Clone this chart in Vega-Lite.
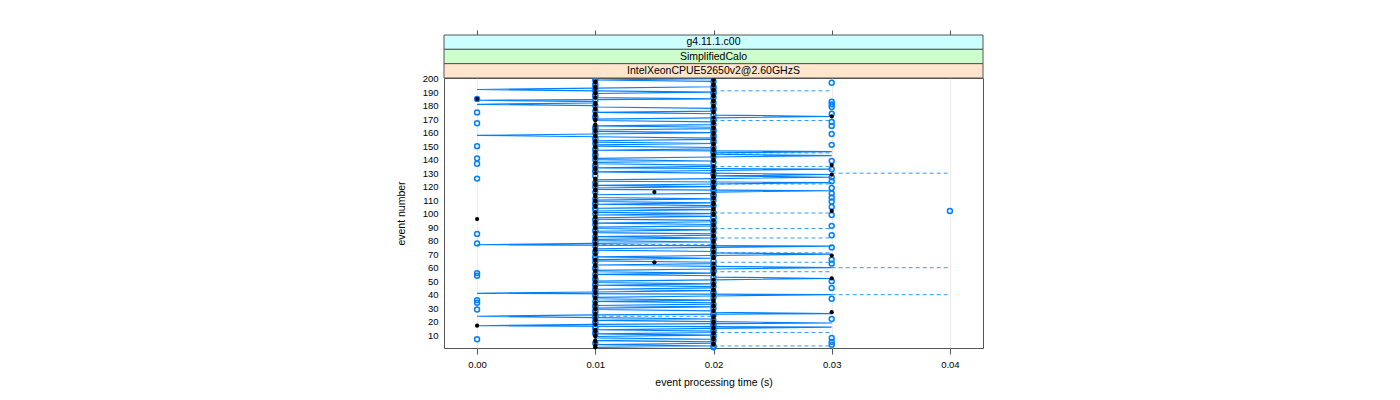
{
  "$schema": "https://vega.github.io/schema/vega-lite/v6.json",
  "autosize": "none",
  "width": 539,
  "height": 270,
  "padding": {"left": 444, "top": 78, "right": 417, "bottom": 52},
  "background": "#ffffff",
  "config": {
    "font": "Liberation Sans",
    "view": {"stroke": "#555555", "strokeWidth": 1}
  },
  "data": {"values": [
{"e":1,"a":0.01,"k":0.01,"p":0.02},
{"e":2,"a":0.02,"k":0.01,"p":0.02},
{"e":3,"a":0.01,"k":0.02,"p":0.03},
{"e":4,"a":0.02,"k":0.02,"p":0.01},
{"e":5,"a":0.02,"k":0.01,"p":0.03},
{"e":6,"a":0.01,"k":0.01,"p":0.02},
{"e":7,"a":0.02,"k":0.02,"p":0.0},
{"e":8,"a":0.01,"k":0.02,"p":0.03},
{"e":9,"a":0.01,"k":0.01,"p":0.02},
{"e":10,"a":0.02,"k":0.01,"p":0.02},
{"e":11,"a":0.01,"k":0.02,"p":0.01},
{"e":12,"a":0.02,"k":0.02,"p":0.01},
{"e":13,"a":0.02,"k":0.01,"p":0.02},
{"e":14,"a":0.01,"k":0.01,"p":0.02},
{"e":15,"a":0.02,"k":0.02,"p":0.01},
{"e":16,"a":0.03,"k":0.02,"p":0.01},
{"e":17,"a":0.0,"k":0.0,"p":0.02},
{"e":18,"a":0.01,"k":0.01,"p":0.02},
{"e":19,"a":0.03,"k":0.02,"p":0.01},
{"e":20,"a":0.02,"k":0.02,"p":0.01},
{"e":21,"a":0.01,"k":0.01,"p":0.02},
{"e":22,"a":0.02,"k":0.01,"p":0.03},
{"e":23,"a":0.01,"k":0.02,"p":0.01},
{"e":24,"a":0.0,"k":0.02,"p":0.01},
{"e":25,"a":0.01,"k":0.01,"p":0.02},
{"e":26,"a":0.03,"k":0.01,"p":0.02},
{"e":27,"a":0.02,"k":0.03,"p":0.01},
{"e":28,"a":0.02,"k":0.02,"p":0.01},
{"e":29,"a":0.01,"k":0.01,"p":0.0},
{"e":30,"a":0.01,"k":0.01,"p":0.02},
{"e":31,"a":0.02,"k":0.02,"p":0.01},
{"e":32,"a":0.01,"k":0.02,"p":0.01},
{"e":33,"a":0.02,"k":0.01,"p":0.02},
{"e":34,"a":0.02,"k":0.01,"p":0.0},
{"e":35,"a":0.01,"k":0.02,"p":0.01},
{"e":36,"a":0.02,"k":0.02,"p":0.0},
{"e":37,"a":0.01,"k":0.01,"p":0.03},
{"e":38,"a":0.01,"k":0.01,"p":0.02},
{"e":39,"a":0.02,"k":0.02,"p":0.01},
{"e":40,"a":0.03,"k":0.02,"p":0.01},
{"e":41,"a":0.0,"k":0.01,"p":0.02},
{"e":42,"a":0.01,"k":0.01,"p":0.02},
{"e":43,"a":0.02,"k":0.02,"p":0.01},
{"e":44,"a":0.01,"k":0.02,"p":0.01},
{"e":45,"a":0.02,"k":0.01,"p":0.03},
{"e":46,"a":0.02,"k":0.01,"p":0.02},
{"e":47,"a":0.01,"k":0.02,"p":0.01},
{"e":48,"a":0.02,"k":0.02,"p":0.01},
{"e":49,"a":0.01,"k":0.01,"p":0.02},
{"e":50,"a":0.01,"k":0.01,"p":0.03},
{"e":51,"a":0.02,"k":0.02,"p":0.01},
{"e":52,"a":0.03,"k":0.03,"p":0.01},
{"e":53,"a":0.02,"k":0.01,"p":0.02},
{"e":54,"a":0.02,"k":0.01,"p":0.0},
{"e":55,"a":0.01,"k":0.02,"p":0.01},
{"e":56,"a":0.02,"k":0.02,"p":0.0},
{"e":57,"a":0.01,"k":0.01,"p":0.02},
{"e":58,"a":0.01,"k":0.01,"p":0.02},
{"e":59,"a":0.02,"k":0.02,"p":0.01},
{"e":60,"a":0.03,"k":0.02,"p":0.01},
{"e":61,"a":0.02,"k":0.01,"p":0.02},
{"e":62,"a":0.01,"k":0.01,"p":0.02},
{"e":63,"a":0.02,"k":0.02,"p":0.03},
{"e":64,"a":0.02,"k":0.015,"p":0.01},
{"e":65,"a":0.01,"k":0.01,"p":0.02},
{"e":66,"a":0.01,"k":0.01,"p":0.03},
{"e":67,"a":0.02,"k":0.02,"p":0.01},
{"e":68,"a":0.01,"k":0.02,"p":0.01},
{"e":69,"a":0.02,"k":0.03,"p":0.02},
{"e":70,"a":0.03,"k":0.01,"p":0.02},
{"e":71,"a":0.02,"k":0.02,"p":0.01},
{"e":72,"a":0.02,"k":0.02,"p":0.01},
{"e":73,"a":0.01,"k":0.01,"p":0.02},
{"e":74,"a":0.01,"k":0.01,"p":0.02},
{"e":75,"a":0.02,"k":0.02,"p":0.03},
{"e":76,"a":0.03,"k":0.02,"p":0.01},
{"e":77,"a":0.0,"k":0.01,"p":0.02},
{"e":78,"a":0.01,"k":0.01,"p":0.0},
{"e":79,"a":0.02,"k":0.02,"p":0.01},
{"e":80,"a":0.01,"k":0.02,"p":0.01},
{"e":81,"a":0.01,"k":0.01,"p":0.02},
{"e":82,"a":0.02,"k":0.01,"p":0.02},
{"e":83,"a":0.01,"k":0.02,"p":0.01},
{"e":84,"a":0.02,"k":0.02,"p":0.03},
{"e":85,"a":0.02,"k":0.01,"p":0.0},
{"e":86,"a":0.01,"k":0.01,"p":0.02},
{"e":87,"a":0.01,"k":0.02,"p":0.01},
{"e":88,"a":0.02,"k":0.02,"p":0.01},
{"e":89,"a":0.01,"k":0.01,"p":0.02},
{"e":90,"a":0.01,"k":0.01,"p":0.02},
{"e":91,"a":0.02,"k":0.02,"p":0.03},
{"e":92,"a":0.02,"k":0.02,"p":0.01},
{"e":93,"a":0.01,"k":0.01,"p":0.02},
{"e":94,"a":0.02,"k":0.01,"p":0.02},
{"e":95,"a":0.02,"k":0.02,"p":0.01},
{"e":96,"a":0.01,"k":0.0,"p":0.01},
{"e":97,"a":0.01,"k":0.01,"p":0.02},
{"e":98,"a":0.02,"k":0.01,"p":0.02},
{"e":99,"a":0.01,"k":0.02,"p":0.03},
{"e":100,"a":0.02,"k":0.02,"p":0.01},
{"e":101,"a":0.01,"k":0.01,"p":0.02},
{"e":102,"a":0.01,"k":0.03,"p":0.04},
{"e":103,"a":0.02,"k":0.02,"p":0.01},
{"e":104,"a":0.01,"k":0.02,"p":0.01},
{"e":105,"a":0.02,"k":0.01,"p":0.03},
{"e":106,"a":0.02,"k":0.01,"p":0.02},
{"e":107,"a":0.01,"k":0.02,"p":0.01},
{"e":108,"a":0.02,"k":0.02,"p":0.01},
{"e":109,"a":0.01,"k":0.01,"p":0.03},
{"e":110,"a":0.01,"k":0.01,"p":0.02},
{"e":111,"a":0.02,"k":0.02,"p":0.01},
{"e":112,"a":0.01,"k":0.02,"p":0.03},
{"e":113,"a":0.01,"k":0.01,"p":0.02},
{"e":114,"a":0.01,"k":0.01,"p":0.02},
{"e":115,"a":0.02,"k":0.02,"p":0.03},
{"e":116,"a":0.02,"k":0.015,"p":0.01},
{"e":117,"a":0.03,"k":0.01,"p":0.02},
{"e":118,"a":0.01,"k":0.01,"p":0.02},
{"e":119,"a":0.01,"k":0.02,"p":0.03},
{"e":120,"a":0.02,"k":0.02,"p":0.01},
{"e":121,"a":0.01,"k":0.01,"p":0.02},
{"e":122,"a":0.02,"k":0.01,"p":0.02},
{"e":123,"a":0.03,"k":0.02,"p":0.01},
{"e":124,"a":0.01,"k":0.02,"p":0.03},
{"e":125,"a":0.01,"k":0.01,"p":0.02},
{"e":126,"a":0.02,"k":0.01,"p":0.0},
{"e":127,"a":0.03,"k":0.02,"p":0.03},
{"e":128,"a":0.02,"k":0.02,"p":0.01},
{"e":129,"a":0.03,"k":0.03,"p":0.02},
{"e":130,"a":0.02,"k":0.01,"p":0.02},
{"e":131,"a":0.01,"k":0.02,"p":0.01},
{"e":132,"a":0.02,"k":0.02,"p":0.01},
{"e":133,"a":0.03,"k":0.01,"p":0.03},
{"e":134,"a":0.01,"k":0.01,"p":0.02},
{"e":135,"a":0.02,"k":0.02,"p":0.01},
{"e":136,"a":0.02,"k":0.03,"p":0.01},
{"e":137,"a":0.01,"k":0.01,"p":0.0},
{"e":138,"a":0.01,"k":0.01,"p":0.02},
{"e":139,"a":0.02,"k":0.02,"p":0.03},
{"e":140,"a":0.01,"k":0.02,"p":0.01},
{"e":141,"a":0.01,"k":0.01,"p":0.0},
{"e":142,"a":0.02,"k":0.01,"p":0.02},
{"e":143,"a":0.03,"k":0.02,"p":0.01},
{"e":144,"a":0.02,"k":0.02,"p":0.01},
{"e":145,"a":0.02,"k":0.01,"p":0.02},
{"e":146,"a":0.03,"k":0.01,"p":0.02},
{"e":147,"a":0.01,"k":0.02,"p":0.01},
{"e":148,"a":0.02,"k":0.02,"p":0.01},
{"e":149,"a":0.02,"k":0.01,"p":0.02},
{"e":150,"a":0.01,"k":0.01,"p":0.0},
{"e":151,"a":0.01,"k":0.02,"p":0.03},
{"e":152,"a":0.02,"k":0.02,"p":0.01},
{"e":153,"a":0.01,"k":0.01,"p":0.02},
{"e":154,"a":0.01,"k":0.01,"p":0.02},
{"e":155,"a":0.02,"k":0.02,"p":0.01},
{"e":156,"a":0.02,"k":0.02,"p":0.01},
{"e":157,"a":0.01,"k":0.01,"p":0.02},
{"e":158,"a":0.0,"k":0.01,"p":0.02},
{"e":159,"a":0.01,"k":0.02,"p":0.03},
{"e":160,"a":0.02,"k":0.02,"p":0.01},
{"e":161,"a":0.01,"k":0.01,"p":0.02},
{"e":162,"a":0.01,"k":0.01,"p":0.02},
{"e":163,"a":0.02,"k":0.02,"p":0.01},
{"e":164,"a":0.02,"k":0.02,"p":0.01},
{"e":165,"a":0.01,"k":0.01,"p":0.03},
{"e":166,"a":0.02,"k":0.01,"p":0.02},
{"e":167,"a":0.02,"k":0.02,"p":0.0},
{"e":168,"a":0.02,"k":0.02,"p":0.03},
{"e":169,"a":0.01,"k":0.01,"p":0.02},
{"e":170,"a":0.01,"k":0.01,"p":0.02},
{"e":171,"a":0.02,"k":0.02,"p":0.01},
{"e":172,"a":0.03,"k":0.03,"p":0.01},
{"e":173,"a":0.02,"k":0.01,"p":0.02},
{"e":174,"a":0.02,"k":0.01,"p":0.03},
{"e":175,"a":0.01,"k":0.02,"p":0.0},
{"e":176,"a":0.02,"k":0.02,"p":0.01},
{"e":177,"a":0.02,"k":0.01,"p":0.02},
{"e":178,"a":0.02,"k":0.01,"p":0.02},
{"e":179,"a":0.01,"k":0.02,"p":0.03},
{"e":180,"a":0.01,"k":0.02,"p":0.01},
{"e":181,"a":0.0,"k":0.01,"p":0.03},
{"e":182,"a":0.01,"k":0.01,"p":0.02},
{"e":183,"a":0.01,"k":0.02,"p":0.03},
{"e":184,"a":0.0,"k":0.02,"p":0.01},
{"e":185,"a":0.02,"k":0.0,"p":0.0},
{"e":186,"a":0.01,"k":0.01,"p":0.02},
{"e":187,"a":0.01,"k":0.02,"p":0.01},
{"e":188,"a":0.01,"k":0.02,"p":0.01},
{"e":189,"a":0.01,"k":0.01,"p":0.02},
{"e":190,"a":0.02,"k":0.01,"p":0.02},
{"e":191,"a":0.01,"k":0.02,"p":0.01},
{"e":192,"a":0.0,"k":0.02,"p":0.01},
{"e":193,"a":0.01,"k":0.01,"p":0.02},
{"e":194,"a":0.02,"k":0.01,"p":0.02},
{"e":195,"a":0.02,"k":0.02,"p":0.01},
{"e":196,"a":0.02,"k":0.02,"p":0.01},
{"e":197,"a":0.02,"k":0.01,"p":0.03},
{"e":198,"a":0.02,"k":0.01,"p":0.02},
{"e":199,"a":0.01,"k":0.02,"p":0.01},
{"e":200,"a":0.02,"k":0.02,"p":0.01}
  ]},
  "layer": [
    {
      "mark": {"type": "line", "color": "#0080ff", "strokeWidth": 1.2},
      "encoding": {
        "x": {"field": "a", "type": "quantitative", "scale": {"domain": [-0.0028, 0.0428], "nice": false, "zero": false},
              "axis": {"orient": "bottom", "values": [0, 0.01, 0.02, 0.03, 0.04], "format": ".2f", "tickSize": 6, "tickColor": "#555555", "labelColor": "#000000", "labelFont": "Liberation Sans", "labelFontSize": 9.5, "labelPadding": 5, "title": "event processing time (s)", "titleFont": "Liberation Sans", "titleColor": "#000000", "titleFontWeight": "normal", "titleFontSize": 10.5, "titlePadding": 9, "grid": true, "gridColor": "#ececec", "domain": false}},
        "y": {"field": "e", "type": "quantitative", "scale": {"domain": [0.5, 200.5], "nice": false, "zero": false},
              "axis": {"values": [10, 20, 30, 40, 50, 60, 70, 80, 90, 100, 110, 120, 130, 140, 150, 160, 170, 180, 190, 200], "tickSize": 0, "labelPadding": 6, "labelColor": "#000000", "labelFont": "Liberation Sans", "labelFontSize": 9.5, "title": "event number", "titleFont": "Liberation Sans", "titleColor": "#000000", "titleFontWeight": "normal", "titleFontSize": 10.5, "titlePadding": 16, "grid": false, "domain": false}},
        "order": {"field": "e"}
      }
    },
    {
      "data": {"values": [
        {"e": 2, "x1": 0.02, "x2": 0.03},
        {"e": 12, "x1": 0.02, "x2": 0.03},
        {"e": 24, "x1": 0.01, "x2": 0.02},
        {"e": 40, "x1": 0.03, "x2": 0.04},
        {"e": 57, "x1": 0.02, "x2": 0.03},
        {"e": 60, "x1": 0.03, "x2": 0.04},
        {"e": 64, "x1": 0.02, "x2": 0.03},
        {"e": 71, "x1": 0.02, "x2": 0.03},
        {"e": 77, "x1": 0.01, "x2": 0.02},
        {"e": 82, "x1": 0.02, "x2": 0.03},
        {"e": 89, "x1": 0.02, "x2": 0.03},
        {"e": 100.5, "x1": 0.02, "x2": 0.03},
        {"e": 122, "x1": 0.02, "x2": 0.03},
        {"e": 130, "x1": 0.03, "x2": 0.04},
        {"e": 135, "x1": 0.02, "x2": 0.03},
        {"e": 145, "x1": 0.02, "x2": 0.03},
        {"e": 169, "x1": 0.02, "x2": 0.03},
        {"e": 191, "x1": 0.02, "x2": 0.03}
      ]},
      "mark": {"type": "rule", "color": "#0080ff", "strokeWidth": 1, "strokeDash": [4, 3], "opacity": 0.8},
      "encoding": {
        "x": {"field": "x1", "type": "quantitative", "axis": null},
        "x2": {"field": "x2"},
        "y": {"field": "e", "type": "quantitative", "scale": {"domain": [0.5, 200.5], "nice": false, "zero": false}, "axis": null}
      }
    },
    {
      "mark": {"type": "point", "shape": "circle", "filled": false, "color": "#0080ff", "size": 24, "strokeWidth": 1.5, "opacity": 1},
      "encoding": {
        "x": {"field": "p", "type": "quantitative", "axis": null},
        "y": {"field": "e", "type": "quantitative", "scale": {"domain": [0.5, 200.5], "nice": false, "zero": false}, "axis": null}
      }
    },
    {
      "mark": {"type": "point", "shape": "circle", "filled": true, "color": "#000000", "size": 18, "opacity": 1},
      "encoding": {
        "x": {"field": "k", "type": "quantitative", "axis": null},
        "y": {"field": "e", "type": "quantitative", "scale": {"domain": [0.5, 200.5], "nice": false, "zero": false}, "axis": null}
      }
    },
    {
      "data": {"values": [{"lv": "g4.11.1.c00"}, {"lv": "SimplifiedCalo"}, {"lv": "IntelXeonCPUE52650v2@2.60GHzS"}]},
      "mark": {"type": "rect", "stroke": "#555555", "strokeWidth": 1},
      "encoding": {
        "y": {"field": "lv", "type": "nominal", "scale": {"domain": ["g4.11.1.c00", "SimplifiedCalo", "IntelXeonCPUE52650v2@2.60GHzS"], "range": [-43, 0], "paddingInner": 0, "paddingOuter": 0}, "axis": null},
        "x": {"datum": -0.0028, "type": "quantitative", "axis": {"orient": "top", "offset": 42, "values": [0, 0.01, 0.02, 0.03, 0.04], "labels": false, "tickSize": 6, "tickColor": "#555555", "grid": false, "title": null, "domain": false}},
        "x2": {"datum": 0.0428},
        "fill": {"field": "lv", "type": "nominal", "scale": {"domain": ["g4.11.1.c00", "SimplifiedCalo", "IntelXeonCPUE52650v2@2.60GHzS"], "range": ["#ccffff", "#ccffcc", "#ffe5cc"]}, "legend": null}
      }
    },
    {
      "data": {"values": [{"lv": "g4.11.1.c00"}, {"lv": "SimplifiedCalo"}, {"lv": "IntelXeonCPUE52650v2@2.60GHzS"}]},
      "mark": {"type": "text", "fontSize": 10.5, "font": "Liberation Sans", "color": "#000000"},
      "encoding": {
        "y": {"field": "lv", "type": "nominal", "scale": {"domain": ["g4.11.1.c00", "SimplifiedCalo", "IntelXeonCPUE52650v2@2.60GHzS"], "range": [-43, 0], "paddingInner": 0, "paddingOuter": 0}, "axis": null},
        "x": {"datum": 0.02, "type": "quantitative", "axis": null},
        "text": {"field": "lv"}
      }
    }
  ],
  "resolve": {"scale": {"y": "independent"}}
}
